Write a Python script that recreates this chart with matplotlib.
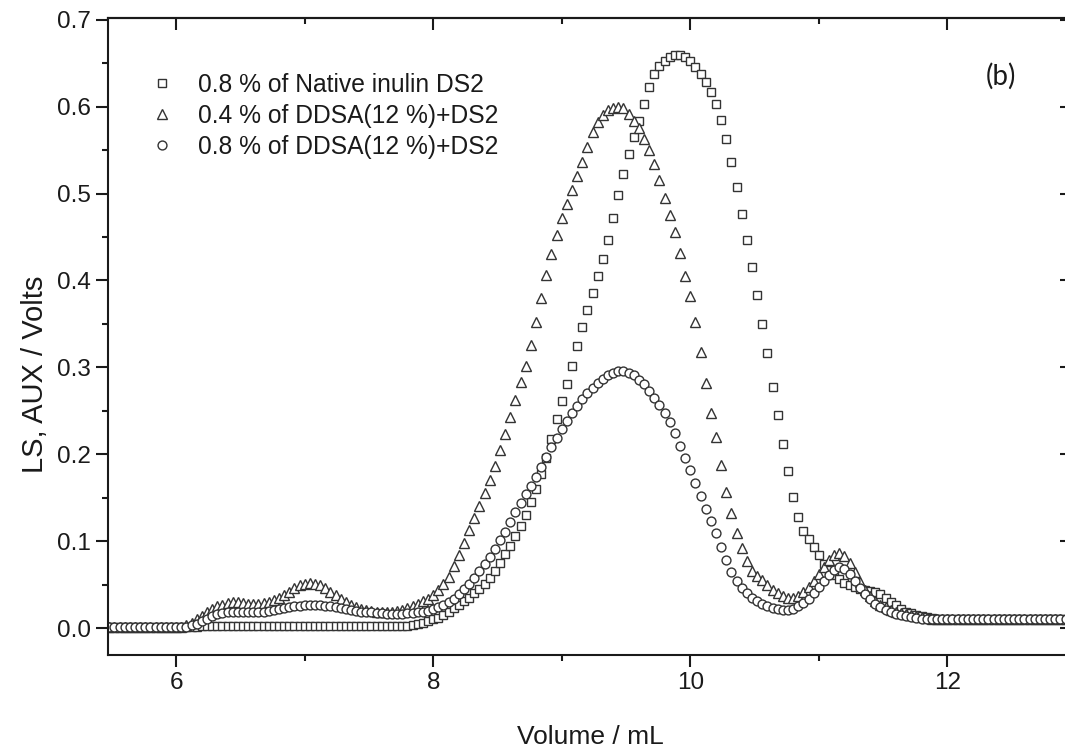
import numpy as np
import matplotlib
matplotlib.use("Agg")
import matplotlib.pyplot as plt
from matplotlib.ticker import MultipleLocator

# elution volume of the trace (mL), one reading every 0.04 mL
volume = np.linspace(5.48, 12.96, 188)

# 0.8 % of Native inulin DS2 (squares)
native_08 = [
    0.001, 0.001, 0.001, 0.001, 0.001, 0.001, 0.001, 0.001, 0.001, 0.001, 0.001, 0.001, 0.001,
    0.001, 0.001, 0.001, 0.001, 0.001, 0.002, 0.002, 0.002, 0.002, 0.002, 0.002, 0.002, 0.002,
    0.002, 0.002, 0.002, 0.002, 0.002, 0.002, 0.002, 0.002, 0.002, 0.002, 0.002, 0.002,
    0.002, 0.002, 0.002, 0.002, 0.002, 0.002, 0.002, 0.002, 0.002, 0.002, 0.002, 0.002, 0.002,
    0.002, 0.002, 0.002, 0.002, 0.002, 0.002, 0.002, 0.002, 0.003, 0.005, 0.006, 0.008,
    0.010, 0.012, 0.015, 0.019, 0.023, 0.027, 0.031, 0.035, 0.040, 0.045, 0.051, 0.058, 0.066,
    0.075, 0.085, 0.095, 0.106, 0.117, 0.130, 0.145, 0.160, 0.177, 0.196, 0.217, 0.240,
    0.261, 0.281, 0.302, 0.324, 0.347, 0.366, 0.386, 0.405, 0.425, 0.447, 0.472, 0.498, 0.522,
    0.545, 0.565, 0.583, 0.603, 0.623, 0.638, 0.647, 0.653, 0.657, 0.659, 0.659, 0.657,
    0.653, 0.646, 0.638, 0.628, 0.617, 0.603, 0.585, 0.563, 0.536, 0.508, 0.476, 0.446, 0.416,
    0.383, 0.350, 0.316, 0.277, 0.245, 0.212, 0.181, 0.151, 0.128, 0.112, 0.102, 0.093,
    0.084, 0.074, 0.067, 0.061, 0.056, 0.052, 0.049, 0.047, 0.045, 0.044, 0.043, 0.042, 0.039,
    0.035, 0.030, 0.026, 0.022, 0.019, 0.017, 0.015, 0.014, 0.013, 0.012, 0.011, 0.011,
    0.010, 0.010, 0.010, 0.010, 0.010, 0.010, 0.010, 0.010, 0.010, 0.010, 0.010, 0.010, 0.010,
    0.010, 0.010, 0.010, 0.010, 0.010, 0.010, 0.010, 0.010, 0.010, 0.010, 0.010, 0.010,
]

# 0.4 % of DDSA(12 %)+DS2 (triangles)
ddsa_04 = [
    0.001, 0.001, 0.001, 0.001, 0.001, 0.001, 0.001, 0.001, 0.001, 0.001, 0.001, 0.001, 0.001,
    0.001, 0.001, 0.003, 0.006, 0.010, 0.014, 0.019, 0.022, 0.025, 0.027, 0.029, 0.030, 0.030,
    0.029, 0.028, 0.028, 0.028, 0.029, 0.030, 0.032, 0.035, 0.038, 0.042, 0.046, 0.049,
    0.051, 0.052, 0.051, 0.049, 0.046, 0.042, 0.038, 0.034, 0.030, 0.027, 0.024, 0.022, 0.021,
    0.020, 0.019, 0.018, 0.018, 0.019, 0.020, 0.021, 0.023, 0.025, 0.028, 0.031, 0.034,
    0.038, 0.044, 0.051, 0.059, 0.071, 0.084, 0.098, 0.113, 0.127, 0.141, 0.155, 0.170, 0.187,
    0.205, 0.223, 0.243, 0.263, 0.283, 0.302, 0.326, 0.352, 0.380, 0.406, 0.430, 0.452,
    0.472, 0.488, 0.504, 0.520, 0.536, 0.553, 0.571, 0.582, 0.590, 0.596, 0.599, 0.600, 0.598,
    0.592, 0.584, 0.575, 0.563, 0.550, 0.534, 0.516, 0.495, 0.475, 0.456, 0.432, 0.405,
    0.382, 0.352, 0.318, 0.282, 0.248, 0.220, 0.188, 0.156, 0.132, 0.109, 0.092, 0.077, 0.066,
    0.060, 0.055, 0.049, 0.044, 0.040, 0.037, 0.035, 0.035, 0.037, 0.041, 0.047, 0.054,
    0.062, 0.070, 0.078, 0.084, 0.086, 0.083, 0.075, 0.064, 0.053, 0.044, 0.037, 0.031, 0.027,
    0.024, 0.021, 0.019, 0.017, 0.016, 0.015, 0.014, 0.013, 0.012, 0.011, 0.011, 0.010,
    0.010, 0.010, 0.010, 0.010, 0.010, 0.010, 0.010, 0.010, 0.010, 0.010, 0.010, 0.010, 0.010,
    0.010, 0.010, 0.010, 0.010, 0.010, 0.010, 0.010, 0.010, 0.010, 0.010, 0.010, 0.010,
]

# 0.8 % of DDSA(12 %)+DS2 (circles)
ddsa_08 = [
    0.001, 0.001, 0.001, 0.001, 0.001, 0.001, 0.001, 0.001, 0.001, 0.001, 0.001, 0.001, 0.001,
    0.001, 0.001, 0.001, 0.003, 0.005, 0.008, 0.011, 0.014, 0.016, 0.017, 0.018, 0.018, 0.018,
    0.018, 0.018, 0.018, 0.019, 0.019, 0.020, 0.021, 0.022, 0.023, 0.024, 0.025, 0.025,
    0.026, 0.026, 0.026, 0.026, 0.025, 0.025, 0.024, 0.023, 0.022, 0.021, 0.020, 0.019, 0.018,
    0.018, 0.017, 0.017, 0.016, 0.016, 0.016, 0.016, 0.017, 0.017, 0.018, 0.019, 0.020,
    0.022, 0.024, 0.027, 0.030, 0.034, 0.039, 0.045, 0.051, 0.058, 0.066, 0.074, 0.082, 0.091,
    0.101, 0.111, 0.122, 0.133, 0.144, 0.154, 0.164, 0.174, 0.185, 0.197, 0.208, 0.219,
    0.229, 0.238, 0.247, 0.256, 0.264, 0.270, 0.276, 0.282, 0.287, 0.291, 0.294, 0.296, 0.296,
    0.294, 0.291, 0.286, 0.281, 0.273, 0.265, 0.257, 0.248, 0.237, 0.224, 0.210, 0.196,
    0.182, 0.167, 0.152, 0.137, 0.123, 0.109, 0.093, 0.078, 0.065, 0.054, 0.046, 0.040, 0.035,
    0.031, 0.028, 0.025, 0.023, 0.022, 0.021, 0.021, 0.022, 0.025, 0.029, 0.034, 0.040,
    0.047, 0.054, 0.061, 0.067, 0.070, 0.068, 0.062, 0.054, 0.046, 0.039, 0.033, 0.028, 0.024,
    0.021, 0.018, 0.016, 0.015, 0.014, 0.013, 0.012, 0.011, 0.011, 0.010, 0.010, 0.010,
    0.010, 0.010, 0.010, 0.010, 0.010, 0.010, 0.010, 0.010, 0.010, 0.010, 0.010, 0.010, 0.010,
    0.010, 0.010, 0.010, 0.010, 0.010, 0.010, 0.010, 0.010, 0.010, 0.010, 0.010, 0.010,
]

labels = ["0.8 % of Native inulin DS2",
          "0.4 % of DDSA(12 %)+DS2",
          "0.8 % of DDSA(12 %)+DS2"]

plt.rcParams['font.family'] = ['Liberation Sans', 'DejaVu Sans']
ink = '#1a1a1a'
edge = '#333333'

fig = plt.figure(figsize=(10.65, 7.53), dpi=100)
# right spine sits just outside the picture, like the scanned original
ax = fig.add_axes([108 / 1065, 1 - 655 / 753, 964 / 1065, 637 / 753])

# open markers, one series each
ax.plot(volume, native_08, ls='none', marker='s', ms=6.0, mfc='white', mec=edge, mew=1.0, label=labels[0])
ax.plot(volume, ddsa_04, ls='none', marker='^', ms=6.8, mfc='white', mec=edge, mew=1.0, label=labels[1])
ax.plot(volume, ddsa_08, ls='none', marker='o', ms=6.4, mfc='white', mec=edge, mew=1.0, label=labels[2])

ax.set_xlim(5.47, 12.97)
ax.set_ylim(-0.031, 0.702)

ax.xaxis.set_major_locator(MultipleLocator(2))
ax.xaxis.set_minor_locator(MultipleLocator(1))
ax.yaxis.set_major_locator(MultipleLocator(0.1))
ax.yaxis.set_minor_locator(MultipleLocator(0.05))

ax.tick_params(which='major', direction='out', length=8.5, width=1.5, colors=ink, labelsize=17.5, pad=4)
ax.tick_params(which='minor', direction='out', length=4.5, width=1.5, colors=ink)
for s in ax.spines.values():
    s.set_linewidth(1.5)
    s.set_color(ink)

# mirrored ticks on top and right point inwards
top = ax.secondary_xaxis('top')
top.xaxis.set_major_locator(MultipleLocator(2))
top.xaxis.set_minor_locator(MultipleLocator(1))
top.tick_params(which='major', direction='in', length=8.5, width=1.5, colors=ink, labeltop=False)
top.tick_params(which='minor', direction='in', length=4.5, width=1.5, colors=ink)
top.spines['top'].set_linewidth(1.5)
right = ax.secondary_yaxis('right')
right.yaxis.set_major_locator(MultipleLocator(0.1))
right.yaxis.set_minor_locator(MultipleLocator(0.05))
right.tick_params(which='major', direction='in', length=8.5, width=1.5, colors=ink, labelright=False)
right.tick_params(which='minor', direction='in', length=4.5, width=1.5, colors=ink)

ax.set_xlabel('Volume / mL', fontsize=19, color=ink, labelpad=22)
ax.set_ylabel('LS, AUX / Volts', fontsize=21, color=ink)
# the title sits a little below the middle of the axis in the original
ax.yaxis.set_label_coords(-0.061, 0.44)

ax.legend(loc='upper left', bbox_to_anchor=(150 / 1065, 1 - 73 / 753), bbox_transform=fig.transFigure,
          frameon=False, fontsize=17.7, handlelength=1.0, handletextpad=0.95, labelspacing=0.28,
          borderpad=0, borderaxespad=0, labelcolor=ink)

ax.text(1001 / 1065, 1 - 76 / 753, '(b)', transform=fig.transFigure, fontsize=20,
        family=['Lato', 'DejaVu Sans'], color=ink, ha='center', va='center')

fig.savefig('out.png', dpi=100)
